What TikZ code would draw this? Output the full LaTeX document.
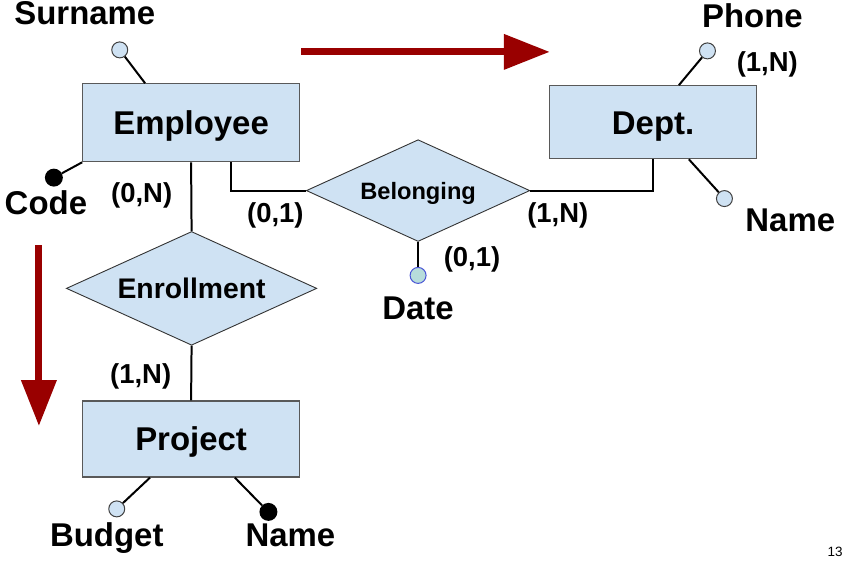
\documentclass[tikz,border=0pt]{standalone}
\usepackage{fontspec}
\setmainfont{Liberation Sans}
\usetikzlibrary{shapes.geometric,arrows.meta}
\definecolor{boxfill}{HTML}{CFE2F3}
\definecolor{boxline}{HTML}{595959}
\definecolor{darkred}{HTML}{990000}
\definecolor{datefill}{HTML}{B7DDDB}
\definecolor{dateline}{HTML}{4A55D6}

\begin{document}
\begin{tikzpicture}[x=1pt,y=-1pt,
  ent/.style={rectangle,draw=boxline,line width=1.3pt,fill=boxfill,inner sep=0pt,text height=23.8pt,text depth=0pt,font=\fontsize{33}{33}\selectfont\bfseries},
  rel/.style={diamond,draw=black!80,line width=0.9pt,fill=boxfill,inner sep=0pt,shape aspect=2.2,text depth=0pt},
  att/.style={circle,draw=black!75,line width=1pt,fill=boxfill,inner sep=0pt,minimum size=16pt},
  key/.style={circle,fill=black,inner sep=0pt,minimum size=18pt},
  lbl/.style={anchor=base,inner sep=0pt,font=\fontsize{33}{33}\selectfont\bfseries},
  card/.style={inner sep=0pt,font=\fontsize{27.5}{27.5}\selectfont\bfseries},
  ln/.style={line width=2pt},
  flow/.style={line width=7pt,draw=darkred,-{Triangle[length=46pt,width=34pt]}}]
  \fill[white] (0,0) rectangle (846,562);

  % entities and relationships
  \node[ent,minimum width=217pt,minimum height=78pt] (emp) at (191.5,123) {Employee};
  \node[ent,minimum width=207pt,minimum height=73pt] (dept) at (654.5,122.5) {Dept.};
  \node[ent,minimum width=217pt,minimum height=76pt] (proj) at (191.5,440) {Project};
  \node[rel,minimum width=224pt,minimum height=102pt,text height=17pt,font=\fontsize{23.7}{23.7}\selectfont\bfseries] (bel) at (419,191) {Belonging};
  \node[rel,minimum width=251pt,minimum height=114pt,text height=20.4pt,font=\fontsize{28.4}{28.4}\selectfont\bfseries] (enr) at (192,289) {Enrollment};

  \draw[ln] (emp.south) -- (enr.north);
  \draw[ln] (enr.south) -- (proj.north);
  \draw[ln] ([xshift=149pt]emp.south west) |- (bel.west);
  \draw[ln] (bel.east) -| (dept.south);

  % attributes
  \node[att] (sur) at (120,50) {};
  \node[key] (code) at (54,178) {};
  \node[att] (phone) at (709,51) {};
  \node[att] (dname) at (726,199) {};
  \node[att,fill=datefill,draw=dateline] (date) at (419,276) {};
  \node[att] (budget) at (117,510) {};
  \node[key] (pname) at (269,513) {};

  \draw[ln] ([xshift=63pt]emp.north west) -- (sur);
  \draw[ln] (emp.south west) -- (code);
  \draw[ln] ([xshift=130pt]dept.north west) -- (phone);
  \draw[ln] ([xshift=140pt]dept.south west) -- (dname);
  \draw[ln] (bel.south) -- (date);
  \draw[ln] ([xshift=68pt]proj.south west) -- (budget);
  \draw[ln] ([xshift=153pt]proj.south west) -- (pname);

  \node[lbl] (lsur) at (85,25) {Surname};
  \node[lbl] (lcode) at (46,215) {Code};
  \node[lbl] (lphone) at (754,28) {Phone};
  \node[lbl] (ldname) at (792,232) {Name};
  \node[lbl] (ldate) at (419,320) {Date};
  \node[lbl] (lbudget) at (107,548) {Budget};
  \node[lbl] (lpname) at (291,548) {Name};

  % cardinalities
  \node[card] (c1) at (142,196) {(0,N)};
  \node[card] (c2) at (276,216) {(0,1)};
  \node[card] (c3) at (559,216) {(1,N)};
  \node[card] (c4) at (473,260) {(0,1)};
  \node[card] (c5) at (769,65) {(1,N)};
  \node[card] (c6) at (141,377) {(1,N)};

  % direction arrows
  \coordinate (hfrom) at (302,52);
  \coordinate (hto) at (551,52);
  \coordinate (vfrom) at (39,246);
  \coordinate (vto) at (39,427);
  \draw[flow] (hfrom) -- (hto);
  \draw[flow] (vfrom) -- (vto);

  \node[font=\fontsize{13.5}{13.5}\selectfont] (page) at (837,553) {13};
\end{tikzpicture}
\end{document}
